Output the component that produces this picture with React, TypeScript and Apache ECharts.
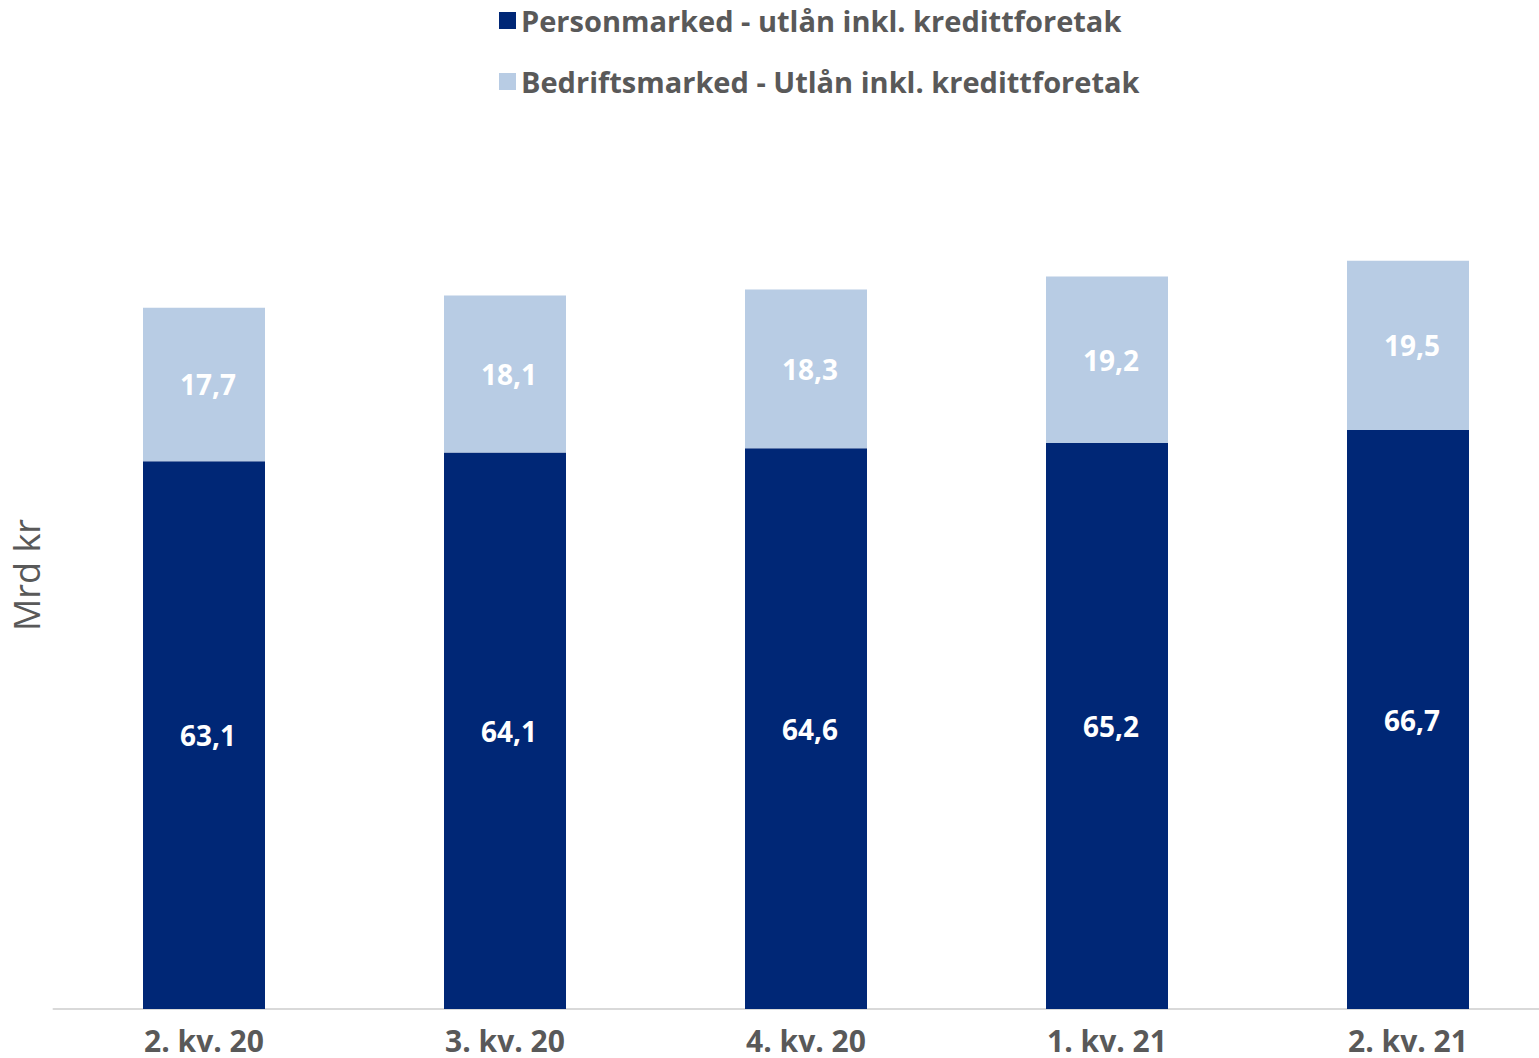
import React, { useEffect, useRef } from "react";
import * as echarts from "echarts";

const categories = ["2. kv. 20", "3. kv. 20", "4. kv. 20", "1. kv. 21", "2. kv. 21"];
const personmarked = [63.1, 64.1, 64.6, 65.2, 66.7];
const bedriftsmarked = [17.7, 18.1, 18.3, 19.2, 19.5];
const seriesNames = [
  "Personmarked - utlån inkl. kredittforetak",
  "Bedriftsmarked - Utlån inkl. kredittforetak",
];

const fmt = (v: number) => v.toFixed(1).replace(".", ",");

export default function App() {
  const ref = useRef<HTMLDivElement>(null);
  useEffect(() => {
    if (!ref.current) return;
    const chart = echarts.init(ref.current, undefined, { renderer: "svg" });
    const font = "'Open Sans', Lato, sans-serif";
    const labelStyle = {
      show: true,
      position: "inside",
      offset: [4, 0],
      color: "#ffffff",
      fontSize: 28,
      fontWeight: "bold",
      fontFamily: font,
      formatter: (p: any) => fmt(p.value),
    };
    chart.setOption({
      animation: false,
      backgroundColor: "#ffffff",
      textStyle: { fontFamily: font },
      legend: {
        orient: "vertical",
        left: 494,
        top: 1,
        itemWidth: 17,
        itemHeight: 17,
        itemGap: 32,
        icon: "rect",
        textStyle: {
          fontSize: 29,
          fontWeight: "bold",
          color: "#595959",
          fontFamily: font,
          padding: [0, 0, 0, 0],
        },
        data: seriesNames,
      },
      grid: {
        left: 53.5,
        right: -19.5,
        top: 141,
        bottom: 49,
        containLabel: false,
        outerBoundsMode: "none",
      },
      xAxis: {
        type: "category",
        data: categories,
        axisLine: { lineStyle: { color: "#d9d9d9", width: 2 } },
        axisTick: { show: false },
        axisLabel: {
          fontSize: 30,
          fontWeight: "bold",
          color: "#595959",
          margin: 16,
          lineHeight: 30,
          fontFamily: font,
        },
      },
      yAxis: {
        type: "value",
        min: 0,
        max: 100,
        axisLine: { show: false },
        axisTick: { show: false },
        axisLabel: { show: false },
        splitLine: { show: false },
        name: "Mrd kr",
        nameLocation: "middle",
        nameGap: 9,
        nameRotate: 90,
        nameTextStyle: { fontSize: 36, color: "#595959", fontFamily: font },
      },
      series: [
        {
          name: seriesNames[0],
          type: "bar",
          stack: "total",
          barWidth: 122,
          data: personmarked,
          itemStyle: { color: "#002776" },
          label: labelStyle,
        },
        {
          name: seriesNames[1],
          type: "bar",
          stack: "total",
          barWidth: 122,
          data: bedriftsmarked,
          itemStyle: { color: "#b8cce4" },
          label: labelStyle,
        },
      ],
    });
    return () => chart.dispose();
  }, []);
  return (
    <div
      ref={ref}
      style={{ position: "absolute", left: 0, top: 0, width: 1539, height: 1058, overflow: "hidden" }}
    />
  );
}
